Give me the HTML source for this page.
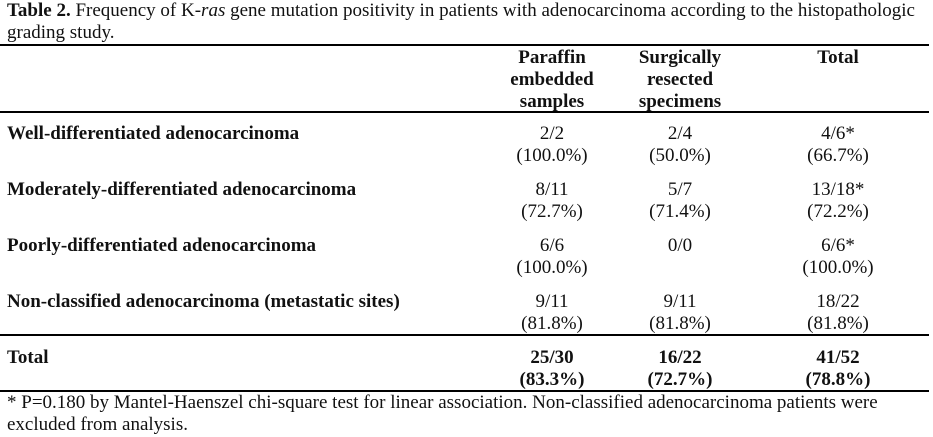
<!DOCTYPE html>
<html><head><meta charset="utf-8"><style>
body{margin:0;width:933px;height:437px;background:#fff;position:relative;overflow:hidden;font-family:"Liberation Serif",serif;font-size:19px;color:#111}
.a{position:absolute;white-space:nowrap;line-height:22px}
.c{position:absolute;text-align:center;width:160px;line-height:22px;white-space:nowrap}
.b{font-weight:bold}
.l{position:absolute;left:0;width:929px;height:2px;background:#000}
</style></head><body>
<div class="a" style="left:7px;top:0px;">
<b>Table 2.</b> Frequency of K-<i>ras</i> gene mutation positivity in patients with adenocarcinoma according to the histopathologic</div>
<div class="a" style="left:7px;top:22px;">grading study.</div>
<div class="l" style="top:44px"></div>
<div class="c b" style="left:472px;top:47px">Paraffin<br>embedded<br>samples</div>
<div class="c b" style="left:600px;top:47px">Surgically<br>resected<br>specimens</div>
<div class="c b" style="left:758px;top:47px">Total</div>
<div class="l" style="top:111px"></div>

<div class="a b" style="left:7px;top:123px">Well-differentiated adenocarcinoma</div>
<div class="c" style="left:472px;top:123px">2/2<br>(100.0%)</div>
<div class="c" style="left:600px;top:123px">2/4<br>(50.0%)</div>
<div class="c" style="left:758px;top:123px">4/6*<br>(66.7%)</div>

<div class="a b" style="left:7px;top:179px">Moderately-differentiated adenocarcinoma</div>
<div class="c" style="left:472px;top:179px">8/11<br>(72.7%)</div>
<div class="c" style="left:600px;top:179px">5/7<br>(71.4%)</div>
<div class="c" style="left:758px;top:179px">13/18*<br>(72.2%)</div>

<div class="a b" style="left:7px;top:235px">Poorly-differentiated adenocarcinoma</div>
<div class="c" style="left:472px;top:235px">6/6<br>(100.0%)</div>
<div class="c" style="left:600px;top:235px">0/0</div>
<div class="c" style="left:758px;top:235px">6/6*<br>(100.0%)</div>

<div class="a b" style="left:7px;top:291px">Non-classified adenocarcinoma (metastatic sites)</div>
<div class="c" style="left:472px;top:291px">9/11<br>(81.8%)</div>
<div class="c" style="left:600px;top:291px">9/11<br>(81.8%)</div>
<div class="c" style="left:758px;top:291px">18/22<br>(81.8%)</div>
<div class="l" style="top:334px"></div>

<div class="a b" style="left:7px;top:347px">Total</div>
<div class="c b" style="left:472px;top:347px">25/30<br>(83.3%)</div>
<div class="c b" style="left:600px;top:347px">16/22<br>(72.7%)</div>
<div class="c b" style="left:758px;top:347px">41/52<br>(78.8%)</div>
<div class="l" style="top:390px"></div>

<div class="a" style="left:7px;top:392px">* P=0.180 by Mantel-Haenszel chi-square test for linear association. Non-classified adenocarcinoma patients were</div>
<div class="a" style="left:7px;top:414px">excluded from analysis.</div>
</body></html>
